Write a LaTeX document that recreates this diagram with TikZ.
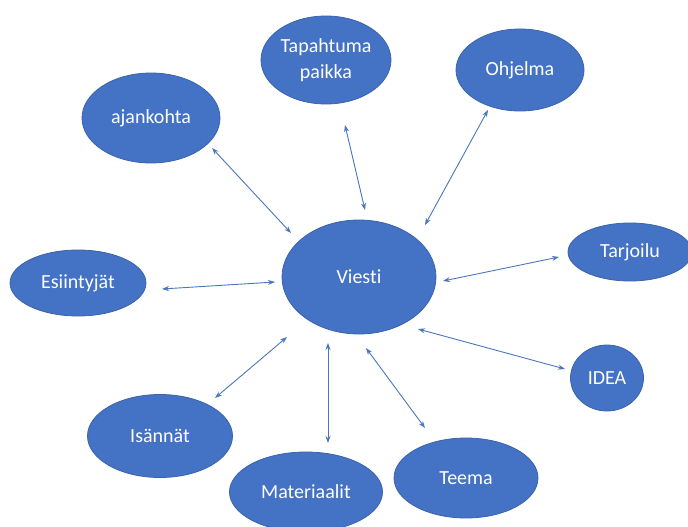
\documentclass[tikz,border=0pt]{standalone}
\usepackage{fontspec}
\setmainfont{Carlito}[Ligatures={NoCommon}]
\usetikzlibrary{arrows.meta,shapes.geometric}
\definecolor{obl}{HTML}{4472C4}
\definecolor{obd}{HTML}{3A63AD}
\definecolor{arr}{HTML}{4A76BE}
\tikzset{
  bub/.style={ellipse, fill=obl, draw=obd, line width=0.8pt, text=white, font=\fontsize{20}{26}\selectfont, inner sep=0pt, align=center},
  link/.style={draw=arr, line width=0.9pt, {Stealth[length=7pt,width=5pt]}-{Stealth[length=7pt,width=5pt]}}
}
\begin{document}
\begin{tikzpicture}[x=1pt,y=-1pt]
\useasboundingbox (0,0) rectangle (688,527);
\clip (0,0) rectangle (688,527);
\node[bub, minimum width=154pt, minimum height=114pt] (v) at (359,277) {Viesti};
\node[bub, minimum width=138pt, minimum height=90pt] (aj) at (151,118) {ajankohta};
\node[bub, minimum width=130pt, minimum height=88pt] (tp) at (326,60) {Tapahtuma\\paikka};
\node[bub, minimum width=128pt, minimum height=82pt] (oh) at (520,70) {Ohjelma};
\node[bub, minimum width=124pt, minimum height=58pt] (ta) at (630,252) {Tarjoilu};
\node[bub, minimum width=136pt, minimum height=66pt] (es) at (78,283) {Esiintyjät};
\node[bub, minimum width=73pt, minimum height=66pt] (id) at (607,378) {IDEA};
\node[bub, minimum width=145pt, minimum height=83pt] (is) at (160,436) {Isännät};
\node[bub, minimum width=153pt, minimum height=80pt] (ma) at (306,492) {Materiaalit};
\node[bub, minimum width=144pt, minimum height=80pt] (te) at (466,478) {Teema};
% arrow end points
\coordinate (a1) at (212,148); \coordinate (b1) at (291,233);
\coordinate (a2) at (345,125); \coordinate (b2) at (365,210);
\coordinate (a3) at (488,110); \coordinate (b3) at (425,225);
\coordinate (a4) at (559,257); \coordinate (b4) at (443,281);
\coordinate (a5) at (565,369); \coordinate (b5) at (418,329);
\coordinate (a6) at (162,289); \coordinate (b6) at (275,282);
\coordinate (a7) at (215,398); \coordinate (b7) at (287,337);
\coordinate (a8) at (328,443); \coordinate (b8) at (328,343);
\coordinate (a9) at (425,428); \coordinate (b9) at (366,348);
\draw[link] (a1) -- (b1);
\draw[link] (a2) -- (b2);
\draw[link] (a3) -- (b3);
\draw[link] (a4) -- (b4);
\draw[link] (a5) -- (b5);
\draw[link] (a6) -- (b6);
\draw[link] (a7) -- (b7);
\draw[link] (a8) -- (b8);
\draw[link] (a9) -- (b9);
\end{tikzpicture}
\end{document}
